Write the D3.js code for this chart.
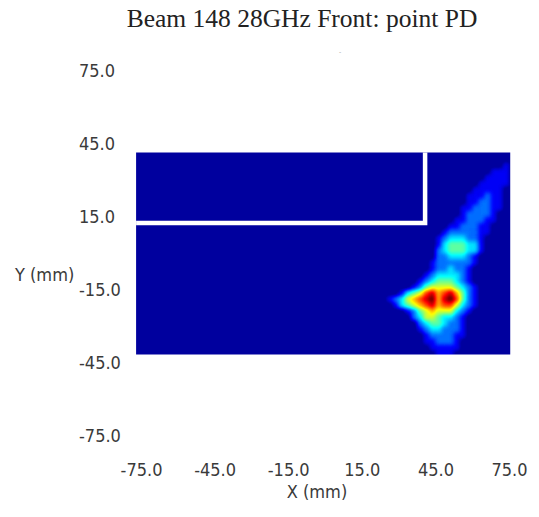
<!DOCTYPE html>
<html>
<head>
<meta charset="utf-8">
<script src="https://cdn.jsdelivr.net/npm/d3@7"></script>
<style>
  body { margin: 0; background: #fff; }
  .tick text { font-family: "DejaVu Sans Condensed", "DejaVu Sans", sans-serif; font-size: 18px; fill: #3a3a3a; }
</style>
</head>
<body>
<div id="chart"></div>
<script>
// chart data (mm)
const titleText = "Beam 148 28GHz Front: point PD";
const xTicks = [-75, -45, -15, 15, 45, 75];
const yTicks = [75, 45, 15, -15, -45, -75];
const heatX = [-77, 75.5];
const heatY = [-41.5, 41.5];
// white outline: horizontal at y=12.5, vertical at x=40.8
const outline = [[-77, 12.5], [40.8, 12.5], [40.8, 41.5]];

// field, 2.5 mm cells, x from 15 mm, rows from y=42.5 mm down
// one digit per cell, 0 = floor .. 9 = peak
const gridX0 = 15, gridY1 = 42.5, cell = 2.5;
const fieldRows = [
  "000000000000000000000000",
  "000000000000000000000000",
  "000000000000000000000001",
  "000000000000000000000111",
  "000000000000000000001111",
  "000000000000000000011111",
  "000000000000000000111110",
  "000000000000000001112110",
  "000000000000000001122110",
  "000000000000000011222110",
  "000000000000000012222100",
  "000000000000000112221100",
  "000000000000001122211000",
  "000000000000012222211000",
  "000000000000123332210000",
  "000000000000134443310000",
  "000000000000234443310000",
  "000000000000223332100000",
  "000000000001222222100000",
  "000000000001223221000000",
  "000000000012333321000000",
  "000000000123444321000000",
  "000000001245555432100000",
  "000000134578678642100000",
  "000012356789689742100000",
  "000001345678677532100000",
  "000000012456555321000000",
  "000000002355433210000000",
  "000000000234432210000000",
  "000000000123322210000000",
  "000000000012222110000000",
  "000000000011222100000000",
  "000000000001111100000000",
  "000000000000111000000000"
];

const W = 539, H = 517;
const x = d3.scaleLinear().domain([-75, 75]).range([141, 509]);
const y = d3.scaleLinear().domain([-75, 75]).range([436, 71]);

const svg = d3.select("#chart").append("svg")
  .attr("width", W)
  .attr("height", H);

// jet colour lookup for the filter (slightly stretched so blurred peaks still reach dark red)
function clamp(v) { return Math.max(0, Math.min(1, v)); }
function jet(t) {
  t = Math.min(1, t * 1.06);
  const r = clamp(Math.min(4 * t - 1.5, -4 * t + 4.5));
  const g = clamp(Math.min(4 * t - 0.5, -4 * t + 3.5));
  const b = clamp(Math.min(Math.max(4 * t + 0.5, 0.62), -4 * t + 2.5));
  return [r, g, b];
}
const steps = d3.range(65).map(i => jet(i / 64));

const defs = svg.append("defs");
const filt = defs.append("filter")
  .attr("id", "jetmap")
  .attr("filterUnits", "userSpaceOnUse")
  .attr("x", 100).attr("y", 120).attr("width", 440).attr("height", 270)
  .attr("color-interpolation-filters", "sRGB");
filt.append("feGaussianBlur").attr("stdDeviation", 2.1);
const ct = filt.append("feComponentTransfer");
["R", "G", "B"].forEach((ch, k) => {
  ct.append("feFunc" + ch)
    .attr("type", "table")
    .attr("tableValues", steps.map(s => s[k].toFixed(3)).join(" "));
});

defs.append("clipPath").attr("id", "heatclip")
  .append("rect")
    .attr("x", x(heatX[0]))
    .attr("y", y(heatY[1]))
    .attr("width", x(heatX[1]) - x(heatX[0]))
    .attr("height", y(heatY[0]) - y(heatY[1]));

// heatmap
const cells = [];
fieldRows.forEach((row, r) => {
  row.split("").forEach((ch, c) => {
    cells.push({ x0: gridX0 + c * cell, y1: gridY1 - r * cell, v: +ch / 9 });
  });
});

const heat = svg.append("g").attr("clip-path", "url(#heatclip)")
  .append("g").attr("filter", "url(#jetmap)");

heat.append("rect")
  .attr("x", x(heatX[0]) - 20)
  .attr("y", y(heatY[1]) - 20)
  .attr("width", x(heatX[1]) - x(heatX[0]) + 40)
  .attr("height", y(heatY[0]) - y(heatY[1]) + 40)
  .attr("fill", "#000");

heat.selectAll("rect.cell")
  .data(cells)
  .enter()
  .append("rect")
    .attr("class", "cell")
    .attr("x", d => x(d.x0))
    .attr("y", d => y(d.y1))
    .attr("width", x(cell) - x(0) + 0.5)
    .attr("height", y(0) - y(cell) + 0.5)
    .attr("fill", d => { const g = Math.round(d.v * 255); return `rgb(${g},${g},${g})`; });

// white outline
svg.append("path")
  .attr("d", d3.line().x(d => x(d[0])).y(d => y(d[1]))(outline))
  .attr("fill", "none")
  .attr("stroke", "#fff")
  .attr("stroke-width", 4.5);

// axes
const fmt = d => d.toFixed(1);
const yAxis = svg.append("g")
  .attr("transform", "translate(79,0)")
  .call(d3.axisLeft(y).tickValues(yTicks).tickFormat(fmt).tickSize(0).tickPadding(0));
yAxis.select(".domain").remove();
yAxis.selectAll("text").attr("text-anchor", "start").attr("x", 0);

const xAxis = svg.append("g")
  .attr("transform", "translate(0,463)")
  .call(d3.axisBottom(x).tickValues(xTicks).tickFormat(fmt).tickSize(0).tickPadding(0));
xAxis.select(".domain").remove();

// labels
svg.append("text")
  .attr("x", 302)
  .attr("y", 27)
  .attr("text-anchor", "middle")
  .attr("font-family", "Liberation Serif, Times New Roman, serif")
  .attr("font-size", "25.5px")
  .attr("fill", "#222")
  .text(titleText);

svg.append("text")
  .attr("x", 340)
  .attr("y", 54)
  .attr("text-anchor", "middle")
  .attr("font-family", "DejaVu Sans, sans-serif")
  .attr("font-size", "6px")
  .attr("fill", "#999")
  .text("-");

svg.append("text")
  .attr("x", 15)
  .attr("y", 281)
  .attr("font-family", "DejaVu Sans Condensed, DejaVu Sans, sans-serif")
  .attr("font-size", "18px")
  .attr("fill", "#3a3a3a")
  .text("Y (mm)");

svg.append("text")
  .attr("x", 317)
  .attr("y", 498)
  .attr("text-anchor", "middle")
  .attr("font-family", "DejaVu Sans Condensed, DejaVu Sans, sans-serif")
  .attr("font-size", "18px")
  .attr("fill", "#3a3a3a")
  .text("X (mm)");
</script>
</body>
</html>
